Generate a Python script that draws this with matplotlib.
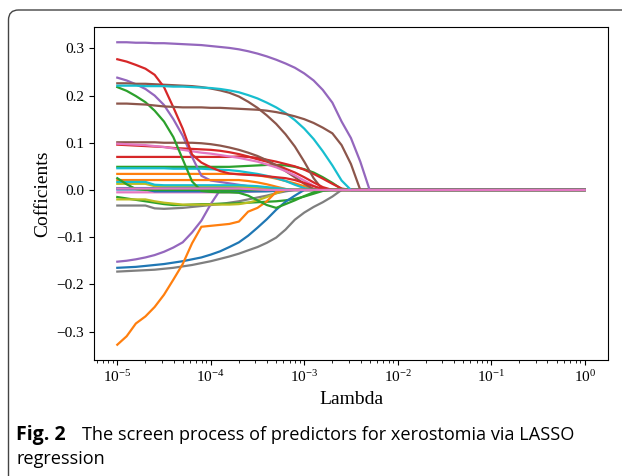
import matplotlib
matplotlib.use('Agg')
import matplotlib.pyplot as plt
from matplotlib.patches import FancyBboxPatch
from matplotlib.transforms import IdentityTransform

plt.rcParams['font.family'] = ['Liberation Serif', 'DejaVu Serif']
plt.rcParams['mathtext.fontset'] = 'stix'

# lambda grid (shared by every path)
lambdas = [1.00e-5, 1.26e-5, 1.58e-5, 2.00e-5, 2.51e-5, 3.16e-5, 3.98e-5, 5.01e-5, 6.31e-5, 7.94e-5,
           1.00e-4, 1.26e-4, 1.58e-4, 2.00e-4, 2.51e-4, 3.16e-4, 3.98e-4, 5.01e-4, 6.31e-4, 7.94e-4,
           1.00e-3, 1.26e-3, 1.58e-3, 2.00e-3, 2.51e-3, 3.16e-3, 3.98e-3, 5.01e-3, 6.31e-3, 1.0]

# coefficient paths
coef_cyan_top = [0.221, 0.221, 0.221, 0.220, 0.220, 0.220, 0.219, 0.219, 0.218, 0.217,
                 0.216, 0.214, 0.211, 0.207, 0.201, 0.194, 0.185, 0.175, 0.163, 0.148,
                 0.130, 0.108, 0.082, 0.052, 0.020, 0, 0, 0, 0, 0]
coef_brown_a = [0.226, 0.226, 0.225, 0.225, 0.224, 0.223, 0.222, 0.221, 0.220, 0.218,
                0.215, 0.211, 0.206, 0.198, 0.187, 0.174, 0.158, 0.140, 0.118, 0.092,
                0.060, 0.025, 0, 0, 0, 0, 0, 0, 0, 0]
coef_brown_b = [0.183, 0.183, 0.182, 0.181, 0.179, 0.177, 0.176, 0.175, 0.175, 0.175,
                0.174, 0.174, 0.173, 0.172, 0.171, 0.170, 0.168, 0.165, 0.161, 0.156,
                0.150, 0.142, 0.132, 0.120, 0.095, 0.055, 0, 0, 0, 0]
coef_purple_top = [0.313, 0.313, 0.312, 0.312, 0.311, 0.311, 0.310, 0.309, 0.308, 0.307,
                   0.305, 0.303, 0.301, 0.298, 0.294, 0.289, 0.283, 0.276, 0.268, 0.259,
                   0.247, 0.232, 0.212, 0.185, 0.145, 0.110, 0.060, 0, 0, 0]
coef_red_top = [0.277, 0.272, 0.265, 0.257, 0.244, 0.218, 0.175, 0.130, 0.075, 0.058,
                0.048, 0.040, 0.035, 0.033, 0.032, 0.031, 0.029, 0.027, 0.025, 0.021,
                0.015, 0.008, 0.002, 0, 0, 0, 0, 0, 0, 0]
coef_green_top = [0.218, 0.210, 0.199, 0.186, 0.168, 0.145, 0.112, 0.065, 0.018, -0.002,
                  -0.004, -0.005, -0.005, -0.006, -0.012, -0.022, -0.032, -0.038, -0.030, -0.022,
                  -0.013, -0.005, 0, 0, 0, 0, 0, 0, 0, 0]
coef_purple_mid = [0.238, 0.232, 0.224, 0.214, 0.200, 0.180, 0.150, 0.115, 0.070, 0.030,
                   0.020, 0.017, 0.014, 0.011, 0.008, 0.004, 0, 0, 0, 0,
                   0, 0, 0, 0, 0, 0, 0, 0, 0, 0]
coef_purple_neg = [-0.152, -0.150, -0.147, -0.143, -0.138, -0.131, -0.122, -0.111, -0.090, -0.065,
                   -0.030, 0, 0, 0, 0, 0, 0, 0, 0, 0,
                   0, 0, 0, 0, 0, 0, 0, 0, 0, 0]
coef_orange_neg = [-0.328, -0.310, -0.283, -0.268, -0.248, -0.222, -0.190, -0.157, -0.113, -0.078,
                   -0.076, -0.074, -0.072, -0.067, -0.046, -0.038, -0.024, -0.004, 0, 0,
                   0, 0, 0, 0, 0, 0, 0, 0, 0, 0]
coef_blue_neg = [-0.165, -0.164, -0.163, -0.161, -0.159, -0.157, -0.154, -0.151, -0.147, -0.143,
                 -0.137, -0.130, -0.121, -0.111, -0.097, -0.080, -0.062, -0.042, -0.025, -0.012,
                 0, 0, 0, 0, 0, 0, 0, 0, 0, 0]
coef_gray_neg = [-0.173, -0.172, -0.171, -0.170, -0.169, -0.167, -0.165, -0.162, -0.159, -0.155,
                 -0.151, -0.146, -0.141, -0.135, -0.128, -0.121, -0.112, -0.101, -0.084, -0.063,
                 -0.048, -0.036, -0.026, -0.014, 0, 0, 0, 0, 0, 0]
coef_green_05 = [0.049, 0.049, 0.049, 0.049, 0.049, 0.049, 0.049, 0.049, 0.049, 0.049,
                 0.049, 0.049, 0.049, 0.050, 0.051, 0.052, 0.053, 0.053, 0.052, 0.049,
                 0.044, 0.037, 0.027, 0.015, 0.002, 0, 0, 0, 0, 0]
coef_red_07 = [0.070, 0.070, 0.070, 0.070, 0.070, 0.070, 0.070, 0.070, 0.070, 0.070,
               0.070, 0.070, 0.070, 0.071, 0.070, 0.068, 0.064, 0.060, 0.055, 0.050,
               0.043, 0.034, 0.024, 0.013, 0.003, 0, 0, 0, 0, 0]
coef_brown_10 = [0.101, 0.101, 0.101, 0.101, 0.101, 0.100, 0.100, 0.100, 0.100, 0.099,
                 0.097, 0.094, 0.090, 0.085, 0.079, 0.072, 0.063, 0.052, 0.040, 0.027,
                 0.013, 0.002, 0, 0, 0, 0, 0, 0, 0, 0]
coef_red_10 = [0.096, 0.095, 0.094, 0.093, 0.092, 0.091, 0.089, 0.088, 0.087, 0.086,
               0.085, 0.083, 0.080, 0.076, 0.071, 0.065, 0.060, 0.053, 0.045, 0.037,
               0.027, 0.016, 0.006, 0, 0, 0, 0, 0, 0, 0]
coef_pink_10 = [0.098, 0.097, 0.096, 0.095, 0.093, 0.091, 0.088, 0.085, 0.082, 0.079,
                0.077, 0.074, 0.071, 0.068, 0.064, 0.060, 0.054, 0.048, 0.040, 0.031,
                0.020, 0.009, 0, 0, 0, 0, 0, 0, 0, 0]
coef_cyan_05 = [0.046, 0.046, 0.046, 0.046, 0.046, 0.046, 0.045, 0.045, 0.045, 0.045,
                0.044, 0.043, 0.042, 0.040, 0.037, 0.034, 0.030, 0.025, 0.019, 0.011,
                0.004, 0, 0, 0, 0, 0, 0, 0, 0, 0]
coef_orange_03 = [0.034, 0.034, 0.034, 0.034, 0.034, 0.034, 0.034, 0.034, 0.034, 0.034,
                  0.034, 0.034, 0.034, 0.034, 0.033, 0.031, 0.028, 0.024, 0.019, 0.014,
                  0.008, 0.002, 0, 0, 0, 0, 0, 0, 0, 0]
coef_orange_02 = [0.021, 0.021, 0.021, 0.021, 0.021, 0.021, 0.021, 0.021, 0.021, 0.021,
                  0.021, 0.021, 0.021, 0.021, 0.019, 0.016, 0.012, 0.007, 0.002, 0,
                  0, 0, 0, 0, 0, 0, 0, 0, 0, 0]
coef_green_small = [0.025, 0.012, 0.002, 0, 0, 0, 0, 0, 0, 0,
                    0, 0, 0, 0, 0, 0, 0, 0, 0, 0,
                    0, 0, 0, 0, 0, 0, 0, 0, 0, 0]
coef_cyan_small = [0.017, 0.017, 0.017, 0.017, 0.011, 0.010, 0.010, 0.010, 0.010, 0.010,
                   0.010, 0.010, 0.010, 0.010, 0.009, 0.008, 0.006, 0.004, 0.002, 0,
                   0, 0, 0, 0, 0, 0, 0, 0, 0, 0]
coef_olive_small = [0.013, 0.013, 0.013, 0.013, 0.008, 0.008, 0.008, 0.008, 0.008, 0.008,
                    0.008, 0.008, 0.008, 0.007, 0.006, 0.004, 0.002, 0, 0, 0,
                    0, 0, 0, 0, 0, 0, 0, 0, 0, 0]
coef_blue_small = [0.004, 0.004, 0.004, 0.004, 0.004, 0.004, 0.004, 0.004, 0.004, 0.004,
                   0.004, 0.004, 0.004, 0.004, 0.004, 0.003, 0.002, 0.001, 0, 0,
                   0, 0, 0, 0, 0, 0, 0, 0, 0, 0]
coef_blue_small_neg = [0.001, 0.001, 0.001, 0.001, -0.003, -0.003, -0.003, -0.003, -0.003, -0.003,
                       -0.003, -0.003, -0.003, -0.003, -0.003, -0.003, -0.003, -0.002, -0.001, 0,
                       0, 0, 0, 0, 0, 0, 0, 0, 0, 0]
coef_green_neg = [-0.015, -0.018, -0.021, -0.024, -0.027, -0.030, -0.032, -0.032, -0.031, -0.030,
                  -0.030, -0.029, -0.029, -0.028, -0.027, -0.026, -0.025, -0.024, -0.022, -0.019,
                  -0.014, -0.008, -0.002, 0, 0, 0, 0, 0, 0, 0]
coef_olive_neg = [-0.020, -0.020, -0.020, -0.020, -0.024, -0.027, -0.029, -0.031, -0.031, -0.031,
                  -0.031, -0.031, -0.031, -0.030, -0.027, -0.022, -0.015, -0.007, 0, 0,
                  0, 0, 0, 0, 0, 0, 0, 0, 0, 0]
coef_gray_small_neg = [-0.033, -0.033, -0.033, -0.033, -0.039, -0.040, -0.039, -0.038, -0.036, -0.034,
                       -0.032, -0.030, -0.027, -0.024, -0.020, -0.016, -0.012, -0.007, -0.003, 0,
                       0, 0, 0, 0, 0, 0, 0, 0, 0, 0]
coef_pink_small = [-0.005, -0.005, -0.005, -0.005, -0.005, -0.005, -0.005, -0.005, -0.005, -0.005,
                   -0.005, -0.005, -0.005, -0.005, -0.004, -0.003, -0.002, -0.001, 0, 0,
                   0, 0, 0, 0, 0, 0, 0, 0, 0, 0]
coef_pink_last = [0.003, 0.003, 0.003, 0.003, 0.003, 0.003, 0.003, 0.003, 0.003, 0.003,
                  0.003, 0.003, 0.003, 0.003, 0.002, 0.001, 0, 0, 0, 0,
                  0, 0, 0, 0, 0, 0, 0, 0, 0, 0]

# drawing order and colour of each path
paths = [
    (coef_blue_small, '#1f77b4'), (coef_orange_03, '#ff7f0e'), (coef_green_05, '#2ca02c'),
    (coef_red_07, '#d62728'), (coef_purple_mid, '#9467bd'), (coef_brown_a, '#8c564b'),
    (coef_pink_small, '#e377c2'), (coef_gray_small_neg, '#7f7f7f'), (coef_olive_small, '#bcbd22'),
    (coef_cyan_05, '#17becf'), (coef_blue_small_neg, '#1f77b4'), (coef_orange_02, '#ff7f0e'),
    (coef_green_neg, '#2ca02c'), (coef_red_10, '#d62728'), (coef_purple_neg, '#9467bd'),
    (coef_brown_10, '#8c564b'), (coef_pink_10, '#e377c2'), (coef_gray_neg, '#7f7f7f'),
    (coef_olive_neg, '#bcbd22'), (coef_cyan_small, '#17becf'), (coef_blue_neg, '#1f77b4'),
    (coef_orange_neg, '#ff7f0e'), (coef_green_small, '#2ca02c'), (coef_green_top, '#2ca02c'),
    (coef_red_top, '#d62728'), (coef_cyan_top, '#17becf'), (coef_brown_b, '#8c564b'),
    (coef_purple_top, '#9467bd'), (coef_pink_last, '#e377c2'),
]

fig = plt.figure(figsize=(6.22, 4.76), dpi=100)
ax = fig.add_axes([0.151, 0.244, 0.8265, 0.699])

for coefs, col in paths:
    ax.plot(lambdas, coefs, color=col, lw=1.6)

ax.set_xscale('log')
ax.set_xlabel('Lambda', fontsize=14)
ax.set_ylabel('Cofficients', fontsize=14)
ax.tick_params(labelsize=11)

# rounded figure frame + caption
frame = FancyBboxPatch((8.5, -30), 700, 496, boxstyle='round,pad=0,rounding_size=10',
                       transform=IdentityTransform(), fill=False, edgecolor='#444444', lw=1.0)
fig.patches.append(frame)
fig.text(16 / 622, 0.076, 'Fig. 2', family='Open Sans', weight='bold', fontsize=14, va='baseline')
fig.text(82 / 622, 0.076, 'The screen process of predictors for xerostomia via LASSO',
         family='Open Sans', fontsize=13.1, va='baseline')
fig.text(16 / 622, 0.026, 'regression', family='Open Sans', fontsize=13.1, va='baseline')

fig.savefig('out.png', dpi=100, facecolor='white')
